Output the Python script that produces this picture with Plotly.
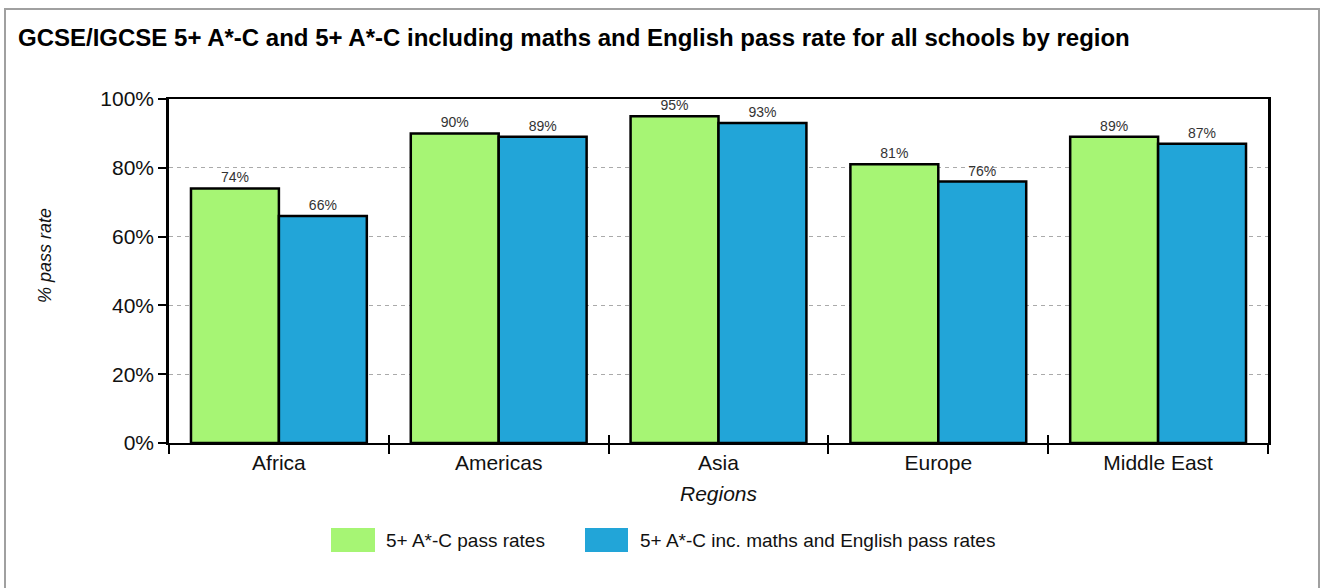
import plotly.graph_objects as go

regions = ["Africa", "Americas", "Asia", "Europe", "Middle East"]
pass_5ac = [74, 90, 95, 81, 89]
pass_5ac_me = [66, 89, 93, 76, 87]
series_names = ["5+ A*-C pass rates", "5+ A*-C inc. maths and English pass rates"]
series_colors = ["#A6F574", "#22A5D8"]
y_ticks = [0, 20, 40, 60, 80, 100]
y_ticktext = [f"{v}%" for v in y_ticks]
title_text = "GCSE/IGCSE 5+ A*-C and 5+ A*-C including maths and English pass rate for all schools by region"

W, H = 1325, 588
L, T = 169, 99
pw, ph = 1099, 344
R = W - L - pw
B = H - T - ph

def px_x(x):
    return (x - L) / pw

def px_y(y):
    return (T + ph - y) / ph

font_family = "Liberation Sans, Arial, sans-serif"

fig = go.Figure()
for name, vals, col in zip(series_names, [pass_5ac, pass_5ac_me], series_colors):
    fig.add_trace(go.Bar(
        x=regions, y=vals, name=name,
        text=[f"{v}%" for v in vals], textposition="outside",
        marker=dict(color=col, line=dict(color="#000000", width=2.5)),
        textfont=dict(size=14, color="#333333", family=font_family),
        cliponaxis=False, showlegend=False,
    ))

# helper trace for inner half of crossing x ticks
fig.add_trace(go.Bar(x=regions, y=[None] * len(regions), xaxis="x2",
                     showlegend=False, hoverinfo="skip"))

fig.update_layout(
    width=W, height=H,
    margin=dict(l=L, r=R, t=T, b=B, autoexpand=False),
    paper_bgcolor="white", plot_bgcolor="white",
    barmode="group", bargap=0.2, bargroupgap=0,
    font=dict(family=font_family, color="#111111"),
    title=dict(text="<b>" + title_text + "</b>", xref="container", yref="container",
               x=18 / W, xanchor="left", y=1 - 38 / H, yanchor="middle",
               font=dict(size=24, color="#000000", family=font_family)),
    xaxis=dict(
        showline=True, linecolor="#000000", linewidth=2, mirror=True,
        ticks="outside", ticklen=9, tickwidth=2, tickcolor="#000000",
        tickson="boundaries", showgrid=False,
        tickfont=dict(size=21, color="#111111"),
    ),
    xaxis2=dict(
        overlaying="x", matches="x", anchor="y", side="bottom",
        ticks="inside", ticklen=8, tickwidth=2, tickcolor="#000000",
        tickson="boundaries", showticklabels=False, showline=False, showgrid=False,
    ),
    yaxis=dict(
        range=[0, 100], tickvals=y_ticks, ticktext=y_ticktext,
        showline=True, linecolor="#000000", linewidth=2.5, mirror=True,
        ticks="outside", ticklen=8, tickwidth=2, tickcolor="#000000",
        showgrid=True, gridcolor="#aaaaaa", gridwidth=1, griddash="4px,4px",
        zeroline=False, tickfont=dict(size=21, color="#111111"),
    ),
)

annotations = [
    dict(text="<i>% pass rate</i>", xref="paper", yref="paper", x=px_x(45), y=px_y(256),
         xanchor="center", yanchor="middle", textangle=-90, showarrow=False,
         font=dict(size=18, color="#111111")),
    dict(text="<i>Regions</i>", xref="paper", yref="paper", x=px_x(719), y=px_y(493),
         xanchor="center", yanchor="middle", showarrow=False,
         font=dict(size=21, color="#111111")),
]
shapes = [
    dict(type="rect", xref="paper", yref="paper", x0=px_x(5), x1=px_x(1319),
         y0=px_y(620), y1=px_y(9), line=dict(color="#a0a0a0", width=2),
         fillcolor="rgba(0,0,0,0)", layer="below"),
]
legend_items = [(331, 375, 384), (585, 628, 638)]
for (x0, x1, tx), name, col in zip(legend_items, series_names, series_colors):
    shapes.append(dict(type="rect", xref="paper", yref="paper", x0=px_x(x0), x1=px_x(x1),
                       y0=px_y(552), y1=px_y(528), line=dict(width=0), fillcolor=col))
    annotations.append(dict(text=name, xref="paper", yref="paper", x=px_x(tx), y=px_y(540),
                            xanchor="left", yanchor="middle", showarrow=False,
                            font=dict(size=19, color="#111111")))

fig.update_layout(annotations=annotations, shapes=shapes)
fig.write_html(
    "out.html",
    config={"displayModeBar": False},
    post_script="document.body.style.margin='0';document.body.style.overflow='hidden';",
)
